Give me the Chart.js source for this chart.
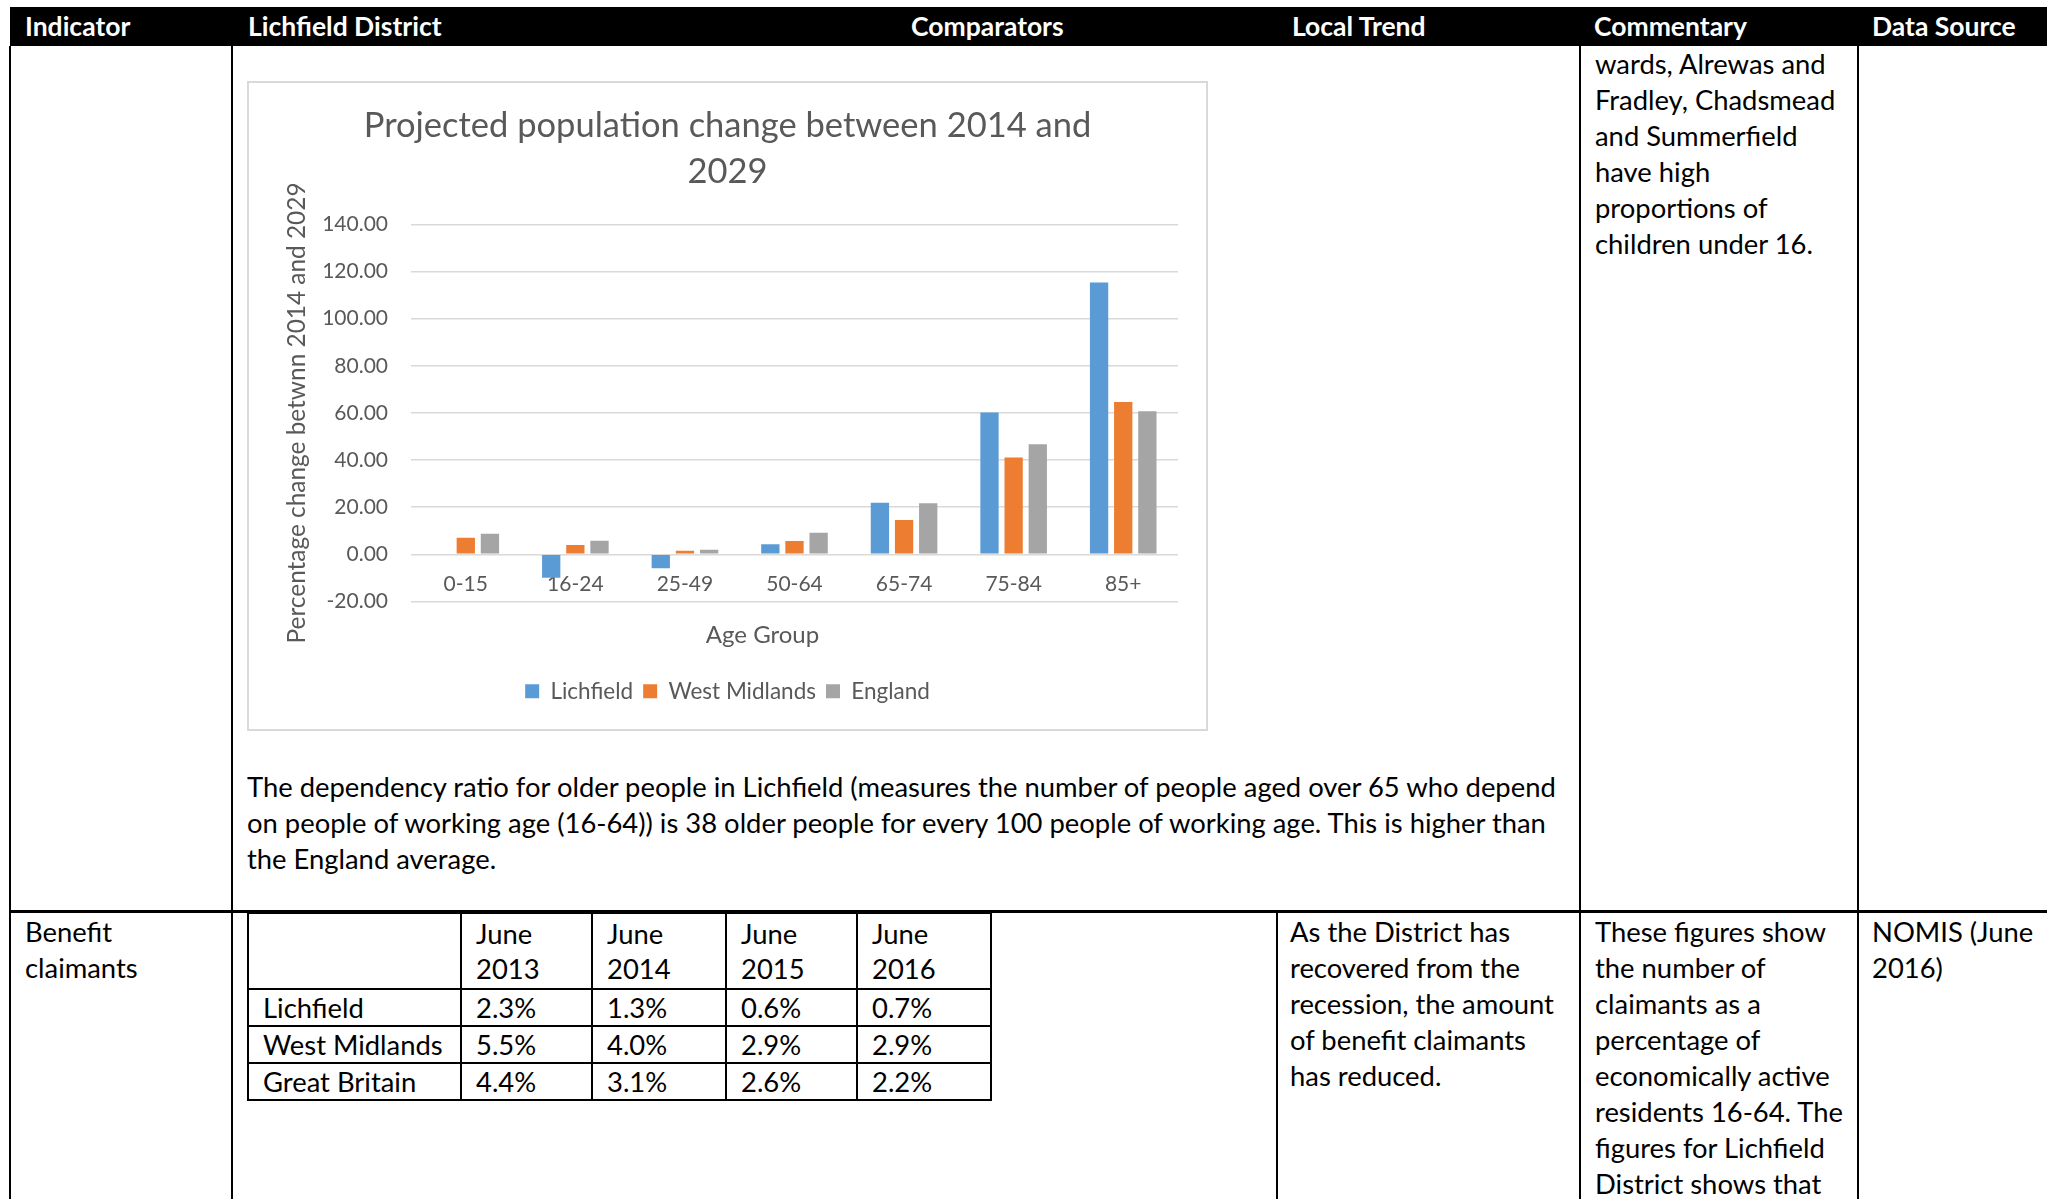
<!DOCTYPE html>
<html>
<head>
<meta charset="utf-8">
<script src="https://cdn.jsdelivr.net/npm/chart.js@4.4.1/dist/chart.umd.min.js"></script>
<style>
  html, body { margin: 0; padding: 0; background: #fff; }
  body { width: 2047px; height: 1199px; position: relative; overflow: hidden;
         font-family: Lato, "Open Sans", sans-serif; font-size: 27.4px; color: #000; }
  .hdr { position: absolute; left: 10px; top: 7px; width: 2037px; height: 39px; background: #000; }
  .ht { position: absolute; top: 7px; line-height: 39px; color: #fff; font-weight: bold; font-size: 26.5px; white-space: nowrap; }
  .vl { position: absolute; width: 2px; background: #000; }
  .hl { position: absolute; height: 3px; background: #000; }
  .txt { position: absolute; line-height: 36px; white-space: nowrap; }
  #chartBox { position: absolute; left: 247px; top: 81px; width: 961px; height: 650px;
              box-sizing: border-box; border: 2px solid #d9d9d9; background: #fff; }
  #chartBox canvas { position: absolute; left: 0; top: 0; }
  table.claims { position: absolute; left: 247px; top: 912px; border-collapse: collapse; table-layout: fixed; }
  table.claims td { border: 2.5px solid #000; padding: 0 0 0 14px; line-height: 35px; height: 32px;
                    white-space: nowrap; vertical-align: middle; }
  table.claims tr.head td { height: 72px; vertical-align: top; padding-top: 2px; }
</style>
</head>
<body>
<div class="hdr"></div>
<div class="ht" style="left:25px">Indicator</div>
<div class="ht" style="left:248px">Lichfield District</div>
<div class="ht" style="left:911px">Comparators</div>
<div class="ht" style="left:1292px">Local Trend</div>
<div class="ht" style="left:1594px">Commentary</div>
<div class="ht" style="left:1872px">Data Source</div>

<div class="vl" style="left:9px;top:46px;height:1153px"></div>
<div class="vl" style="left:231px;top:46px;height:1153px"></div>
<div class="vl" style="left:1276px;top:912px;height:287px"></div>
<div class="vl" style="left:1579px;top:46px;height:1153px"></div>
<div class="vl" style="left:1857px;top:46px;height:1153px"></div>
<div class="hl" style="left:9px;top:910px;width:2038px"></div>

<div class="txt" style="left:1595px;top:46px">wards, Alrewas and<br>Fradley, Chadsmead<br>and Summerfield<br>have high<br>proportions of<br>children under 16.</div>

<div id="chartBox"><canvas id="popChart" width="957" height="646"></canvas></div>

<div class="txt" style="left:247px;top:769px">The dependency ratio for older people in Lichfield (measures the number of people aged over 65 who depend<br>on people of working age (16-64)) is 38 older people for every 100 people of working age. This is higher than<br>the England average.</div>

<div class="txt" style="left:25px;top:914px">Benefit<br>claimants</div>

<table class="claims">
  <colgroup><col style="width:213px"><col style="width:131px"><col style="width:134px"><col style="width:131px"><col style="width:134px"></colgroup>
  <tr class="head"><td></td><td>June<br>2013</td><td>June<br>2014</td><td>June<br>2015</td><td>June<br>2016</td></tr>
  <tr><td>Lichfield</td><td>2.3%</td><td>1.3%</td><td>0.6%</td><td>0.7%</td></tr>
  <tr><td>West Midlands</td><td>5.5%</td><td>4.0%</td><td>2.9%</td><td>2.9%</td></tr>
  <tr><td>Great Britain</td><td>4.4%</td><td>3.1%</td><td>2.6%</td><td>2.2%</td></tr>
</table>

<div class="txt" style="left:1290px;top:914px">As the District has<br>recovered from the<br>recession, the amount<br>of benefit claimants<br>has reduced.</div>
<div class="txt" style="left:1595px;top:914px">These figures show<br>the number of<br>claimants as a<br>percentage of<br>economically active<br>residents 16-64. The<br>figures for Lichfield<br>District shows that</div>
<div class="txt" style="left:1872px;top:914px">NOMIS (June<br>2016)</div>

<script>
const ageGroups = ['0-15', '16-24', '25-49', '50-64', '65-74', '75-84', '85+'];
const lichfield = [0, -10.0, -5.9, 4.3, 21.9, 60.2, 115.4];
const westMidlands = [7.0, 3.9, 1.5, 5.6, 14.6, 41.1, 64.6];
const england = [8.7, 5.7, 1.9, 9.1, 21.7, 46.7, 60.7];
const yMin = -20;
const yMax = 140;
const yStep = 20;

const textGrey = '#595959';
const gridGrey = '#d9d9d9';

Chart.defaults.font.family = 'Lato';
Chart.defaults.color = textGrey;

// shift the "Age Group" title left a bit, Excel centres it differently
const shiftAxisTitle = {
    id: 'shiftAxisTitle',
    afterLayout(chart) {
        const s = chart.scales.x2;
        s.left -= 32;
        s.right -= 32;
    }
};

new Chart(document.getElementById('popChart'), {
    type: 'bar',
    data: {
        labels: ageGroups,
        datasets: [
            { label: 'Lichfield', data: lichfield, backgroundColor: '#5b9bd5' },
            { label: 'West Midlands', data: westMidlands, backgroundColor: '#ed7d31' },
            { label: 'England', data: england, backgroundColor: '#a5a5a5' }
        ]
    },
    options: {
        responsive: false,
        animation: false,
        devicePixelRatio: 1,
        categoryPercentage: 0.661,
        barPercentage: 0.758,
        layout: { padding: { left: 0, right: 0, top: 0, bottom: 16.5 } },
        plugins: {
            title: {
                display: true,
                text: ['Projected population change between 2014 and', '2029'],
                color: textGrey,
                font: { size: 34.5, weight: 'normal', lineHeight: 1.34 },
                padding: { top: 20, bottom: 29 }
            },
            legend: {
                position: 'bottom',
                labels: { boxWidth: 14, boxHeight: 14, font: { size: 22.5 }, color: textGrey, padding: 10 }
            },
            tooltip: { enabled: false }
        },
        scales: {
            y: {
                min: yMin,
                max: yMax,
                ticks: {
                    stepSize: yStep,
                    padding: 23,
                    font: { size: 21 },
                    callback: v => v.toFixed(2)
                },
                grid: { color: gridGrey, lineWidth: 1.5, drawTicks: false },
                border: { display: false },
                title: {
                    display: true,
                    text: 'Percentage change betwnn 2014 and 2029',
                    font: { size: 24.4 },
                    padding: { top: 34, bottom: 0 }
                },
                afterFit: s => { s.width = 162; }
            },
            // empty right axis, just reserves the gap right of the plot
            yRight: {
                type: 'linear',
                position: 'right',
                ticks: { display: false },
                grid: { display: false },
                border: { display: false },
                afterFit: s => { s.width = 28; }
            },
            x: {
                position: { y: 0 },
                ticks: { padding: 0, font: { size: 21 } },
                grid: { display: true, drawOnChartArea: false, drawTicks: true, tickLength: 17, tickColor: 'rgba(0,0,0,0)' },
                border: { display: false }
            },
            x2: {
                type: 'category',
                position: 'bottom',
                ticks: { display: false },
                grid: { display: false },
                border: { display: false },
                title: {
                    display: true,
                    text: 'Age Group',
                    font: { size: 24 },
                    padding: { top: 11.8, bottom: 20 }
                }
            }
        }
    },
    plugins: [shiftAxisTitle]
});
</script>
</body>
</html>
